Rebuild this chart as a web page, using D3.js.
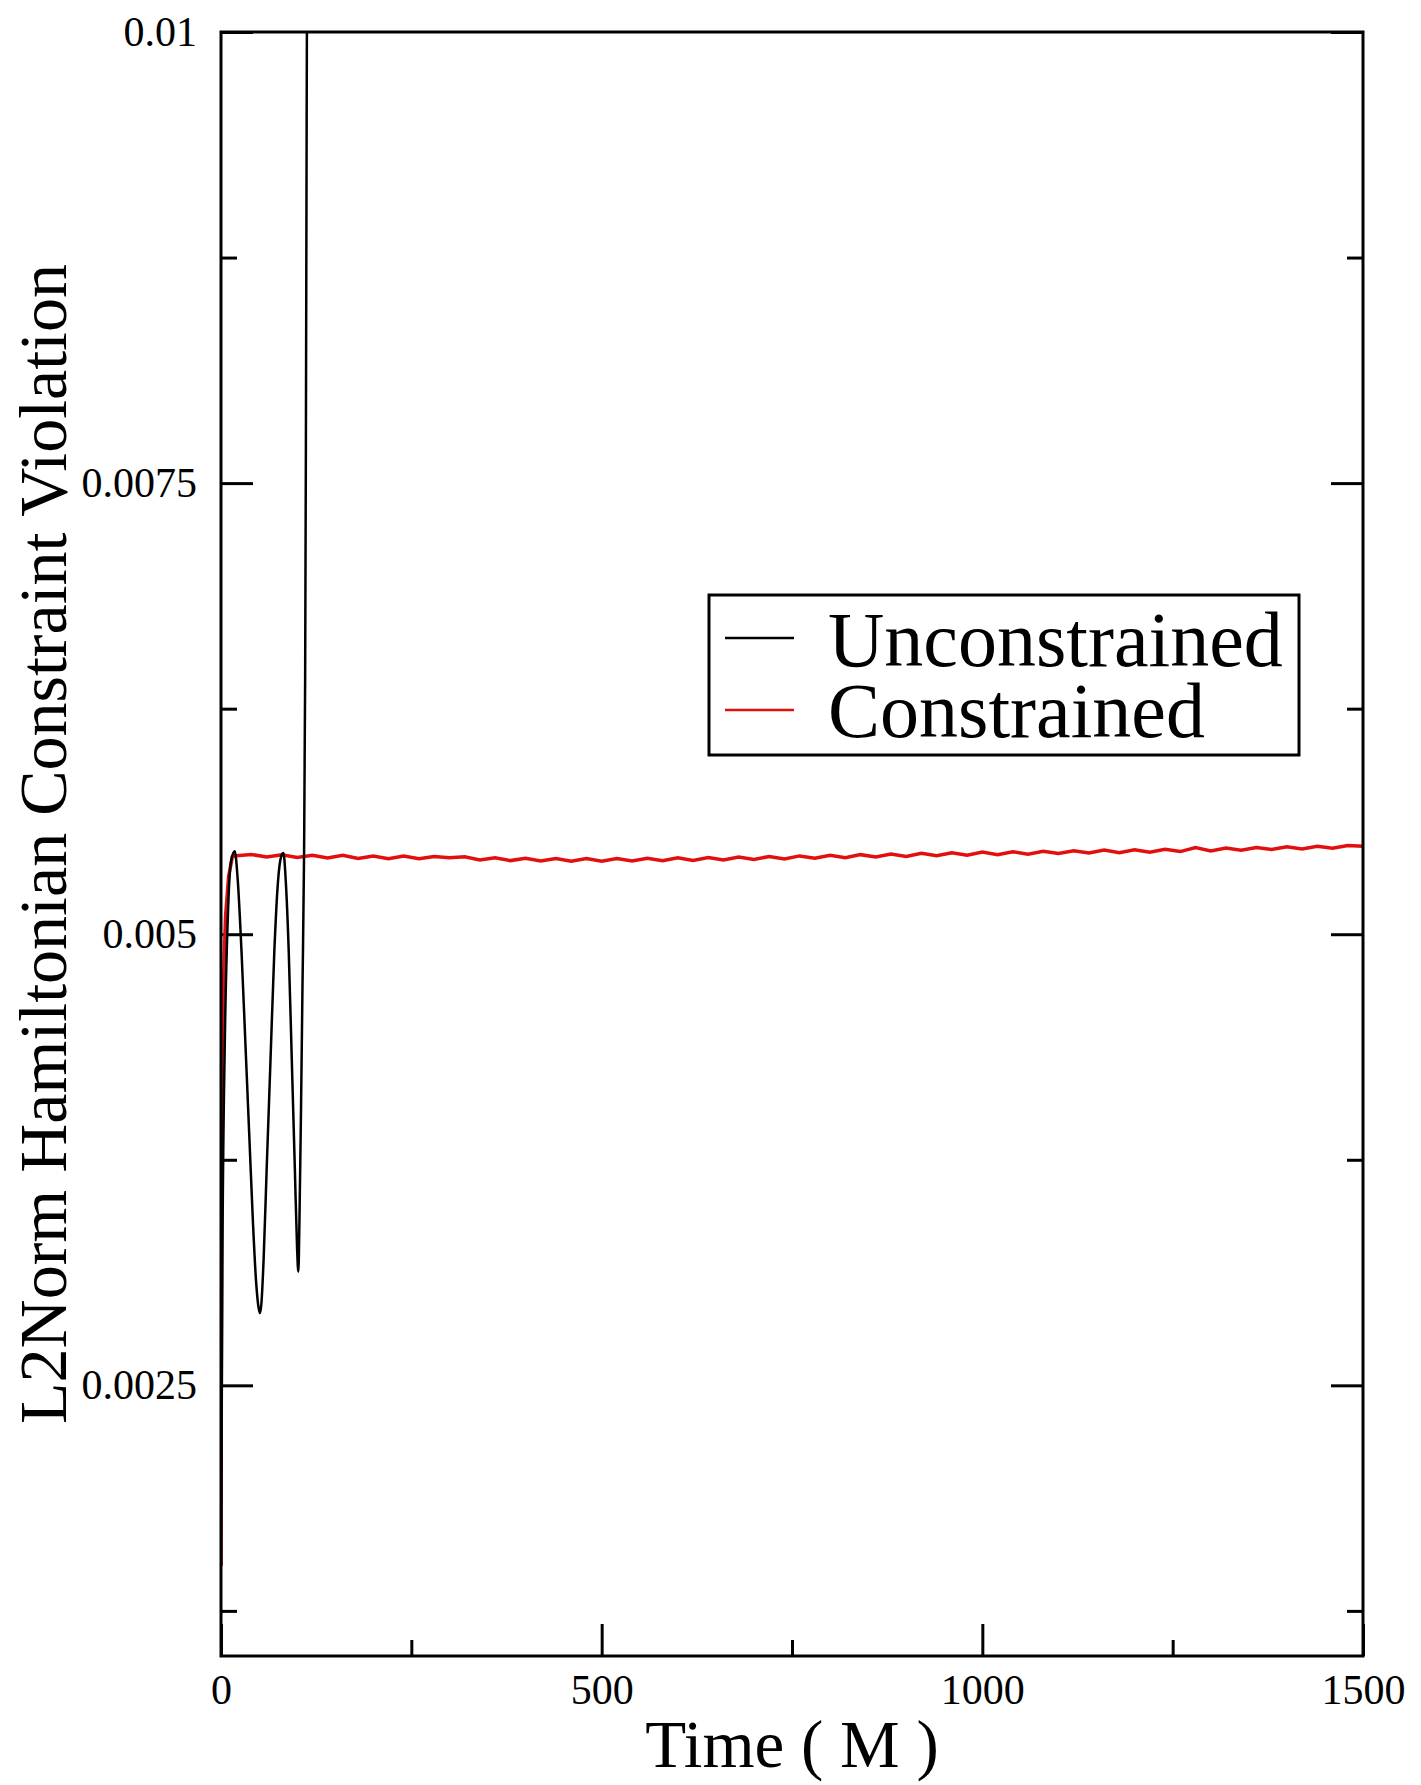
<!DOCTYPE html>
<html>
<head>
<meta charset="utf-8">
<script src="https://cdn.jsdelivr.net/npm/d3@7"></script>
<style>
  body { margin: 0; background: #fff; }
  svg text { font-family: "Liberation Serif", "DejaVu Serif", serif; fill: #000; }
</style>
</head>
<body>
<svg id="chart"></svg>
<script>
// data
let uncT = [0, 2, 5, 9, 13, 18, 22, 27, 32, 37, 42, 46, 49, 51, 53, 56, 60, 65, 70, 75, 79, 82, 85, 89, 93, 97, 100, 101.6, 103, 105, 107, 109, 110.5, 111.5, 112.5, 113.2]
let uncV = [0.0015, 0.0033, 0.0044, 0.0051, 0.0054, 0.00546, 0.0053, 0.0049, 0.0044, 0.0039, 0.0034, 0.00308, 0.00294, 0.0029, 0.00295, 0.0032, 0.0037, 0.0043, 0.0049, 0.0053, 0.00543, 0.00545, 0.0053, 0.0049, 0.0043, 0.0037, 0.00325, 0.00313, 0.0034, 0.0040, 0.0047, 0.0054, 0.0064, 0.0077, 0.0095, 0.0106]

let conT = [0, 1, 3, 6, 10, 15, 20, 40, 60, 80, 100, 120, 140, 160, 180, 200, 220, 240, 260, 280, 300, 320, 340, 360, 380, 400,
            420, 440, 460, 480, 500, 520, 540, 560, 580, 600, 620, 640, 660, 680, 700, 720, 740, 760, 780, 800,
            820, 840, 860, 880, 900, 920, 940, 960, 980, 1000, 1020, 1040, 1060, 1080, 1100, 1120, 1140, 1160, 1180, 1200,
            1220, 1240, 1260, 1280, 1300, 1320, 1340, 1360, 1380, 1400, 1420, 1440, 1460, 1480, 1500]
let conV = [0.0015, 0.0042, 0.0047, 0.0051, 0.00532, 0.00543, 0.005435,
            0.005442, 0.005428, 0.00544, 0.005425, 0.005437, 0.005423, 0.005438, 0.00542, 0.005434, 0.005419, 0.005433, 0.005418, 0.005431, 0.005424, 0.005429, 0.005412, 0.005424, 0.005408, 0.005421,
            0.005406, 0.005419, 0.005405, 0.00542, 0.005404, 0.005419, 0.005406, 0.005421, 0.005407, 0.005423, 0.005409, 0.005425, 0.005412, 0.005428, 0.005414, 0.005431, 0.005417, 0.005434, 0.005421, 0.005438,
            0.005424, 0.005441, 0.005428, 0.005445, 0.005431, 0.005448, 0.005435, 0.005451, 0.005438, 0.005455, 0.005441, 0.005457, 0.005444, 0.00546, 0.005447, 0.005463, 0.00545, 0.005466, 0.005452, 0.005468,
            0.005455, 0.005471, 0.005458, 0.00548, 0.005462, 0.005478, 0.005465, 0.005481, 0.005469, 0.005485, 0.005472, 0.005488, 0.005476, 0.005492, 0.005488]

let xMajor = [0, 500, 1000, 1500]
let xMinor = [250, 750, 1250]
let yMajor = [0.0025, 0.005, 0.0075, 0.01]
let yMinor = [0.00125, 0.00375, 0.00625, 0.00875]
let seriesNames = ["Unconstrained", "Constrained"]
let seriesColors = ["#000000", "#e30f0f"]

let width   = 1421,
    height  = 1785,
    pLeft   = 221,
    pRight  = 1363,
    pTop    = 32,
    pBottom = 1656,

    xScale  = d3.scaleLinear()
                .domain([0, 1500])
                .range([pLeft, pRight]),

    yScale  = d3.scaleLinear()
                .domain([0.001, 0.01])
                .range([pBottom, pTop]),

    svg     = d3.select('#chart')
                .attr('width', width)
                .attr('height', height)

svg.append('rect').attr('width', width).attr('height', height).attr('fill', '#fff')

svg.append('clipPath').attr('id', 'plotclip')
    .append('rect')
    .attr('x', pLeft).attr('y', pTop)
    .attr('width', pRight - pLeft).attr('height', pBottom - pTop)

function styleAxis(g, fs){
    g.select('.domain').remove()
    g.selectAll('line').attr('stroke', '#000').attr('stroke-width', 3)
    g.selectAll('text').style('font-size', fs + 'px')
}

// bottom axis, ticks pointing in
svg.append('g')
    .attr('transform', `translate(0, ${pBottom})`)
    .call(d3.axisBottom(xScale).tickValues(xMajor).tickSize(-32).tickPadding(18).tickFormat(d3.format('d')))
    .call(g => styleAxis(g, 42))
svg.append('g')
    .attr('transform', `translate(0, ${pBottom})`)
    .call(d3.axisBottom(xScale).tickValues(xMinor).tickSize(-16).tickFormat(''))
    .call(g => styleAxis(g, 42))

// left axis
svg.append('g')
    .attr('transform', `translate(${pLeft}, 0)`)
    .call(d3.axisLeft(yScale).tickValues(yMajor).tickSize(-32).tickPadding(24).tickFormat(d => String(+d.toFixed(4))))
    .call(g => styleAxis(g, 42))
svg.append('g')
    .attr('transform', `translate(${pLeft}, 0)`)
    .call(d3.axisLeft(yScale).tickValues(yMinor).tickSize(-16).tickFormat(''))
    .call(g => styleAxis(g, 42))

// right axis mirrors the y ticks
svg.append('g')
    .attr('transform', `translate(${pRight}, 0)`)
    .call(d3.axisLeft(yScale).tickValues(yMajor).tickSize(32).tickFormat(''))
    .call(g => styleAxis(g, 42))
svg.append('g')
    .attr('transform', `translate(${pRight}, 0)`)
    .call(d3.axisLeft(yScale).tickValues(yMinor).tickSize(16).tickFormat(''))
    .call(g => styleAxis(g, 42))

let line = d3.line()
    .x(d => xScale(d[0]))
    .y(d => yScale(d[1]))

let plot = svg.append('g').attr('clip-path', 'url(#plotclip)')

plot.append('path')
    .datum(conT.map((t, i) => [t, conV[i]]))
    .attr('d', line.curve(d3.curveLinear))
    .attr('fill', 'none')
    .attr('stroke', seriesColors[1])
    .attr('stroke-width', 3.5)

plot.append('path')
    .datum(uncT.map((t, i) => [t, uncV[i]]))
    .attr('d', line.curve(d3.curveMonotoneX))
    .attr('fill', 'none')
    .attr('stroke', seriesColors[0])
    .attr('stroke-width', 2.5)

// frame
svg.append('rect')
    .attr('x', pLeft).attr('y', pTop)
    .attr('width', pRight - pLeft).attr('height', pBottom - pTop)
    .attr('fill', 'none')
    .attr('stroke', '#000')
    .attr('stroke-width', 3)

// axis titles
svg.append('text')
    .attr('x', (pLeft + pRight) / 2)
    .attr('y', 1767)
    .attr('text-anchor', 'middle')
    .style('font-size', '67px')
    .text('Time ( M )')

svg.append('text')
    .attr('transform', `translate(66, 844) rotate(-90)`)
    .attr('text-anchor', 'middle')
    .style('font-size', '68px')
    .text('L2Norm Hamiltonian Constraint Violation')

// legend
let legend = svg.append('g')
legend.append('rect')
    .attr('x', 709).attr('y', 595)
    .attr('width', 590).attr('height', 160)
    .attr('fill', '#fff')
    .attr('stroke', '#000')
    .attr('stroke-width', 3)

let legendY = [638, 710],
    legendBase = [666, 737]

seriesNames.forEach((name, i) => {
    legend.append('line')
        .attr('x1', 725).attr('x2', 794)
        .attr('y1', legendY[i]).attr('y2', legendY[i])
        .attr('stroke', seriesColors[i])
        .attr('stroke-width', 2.5)
    legend.append('text')
        .attr('x', 828)
        .attr('y', legendBase[i])
        .style('font-size', '78px')
        .text(name)
})
</script>
</body>
</html>
